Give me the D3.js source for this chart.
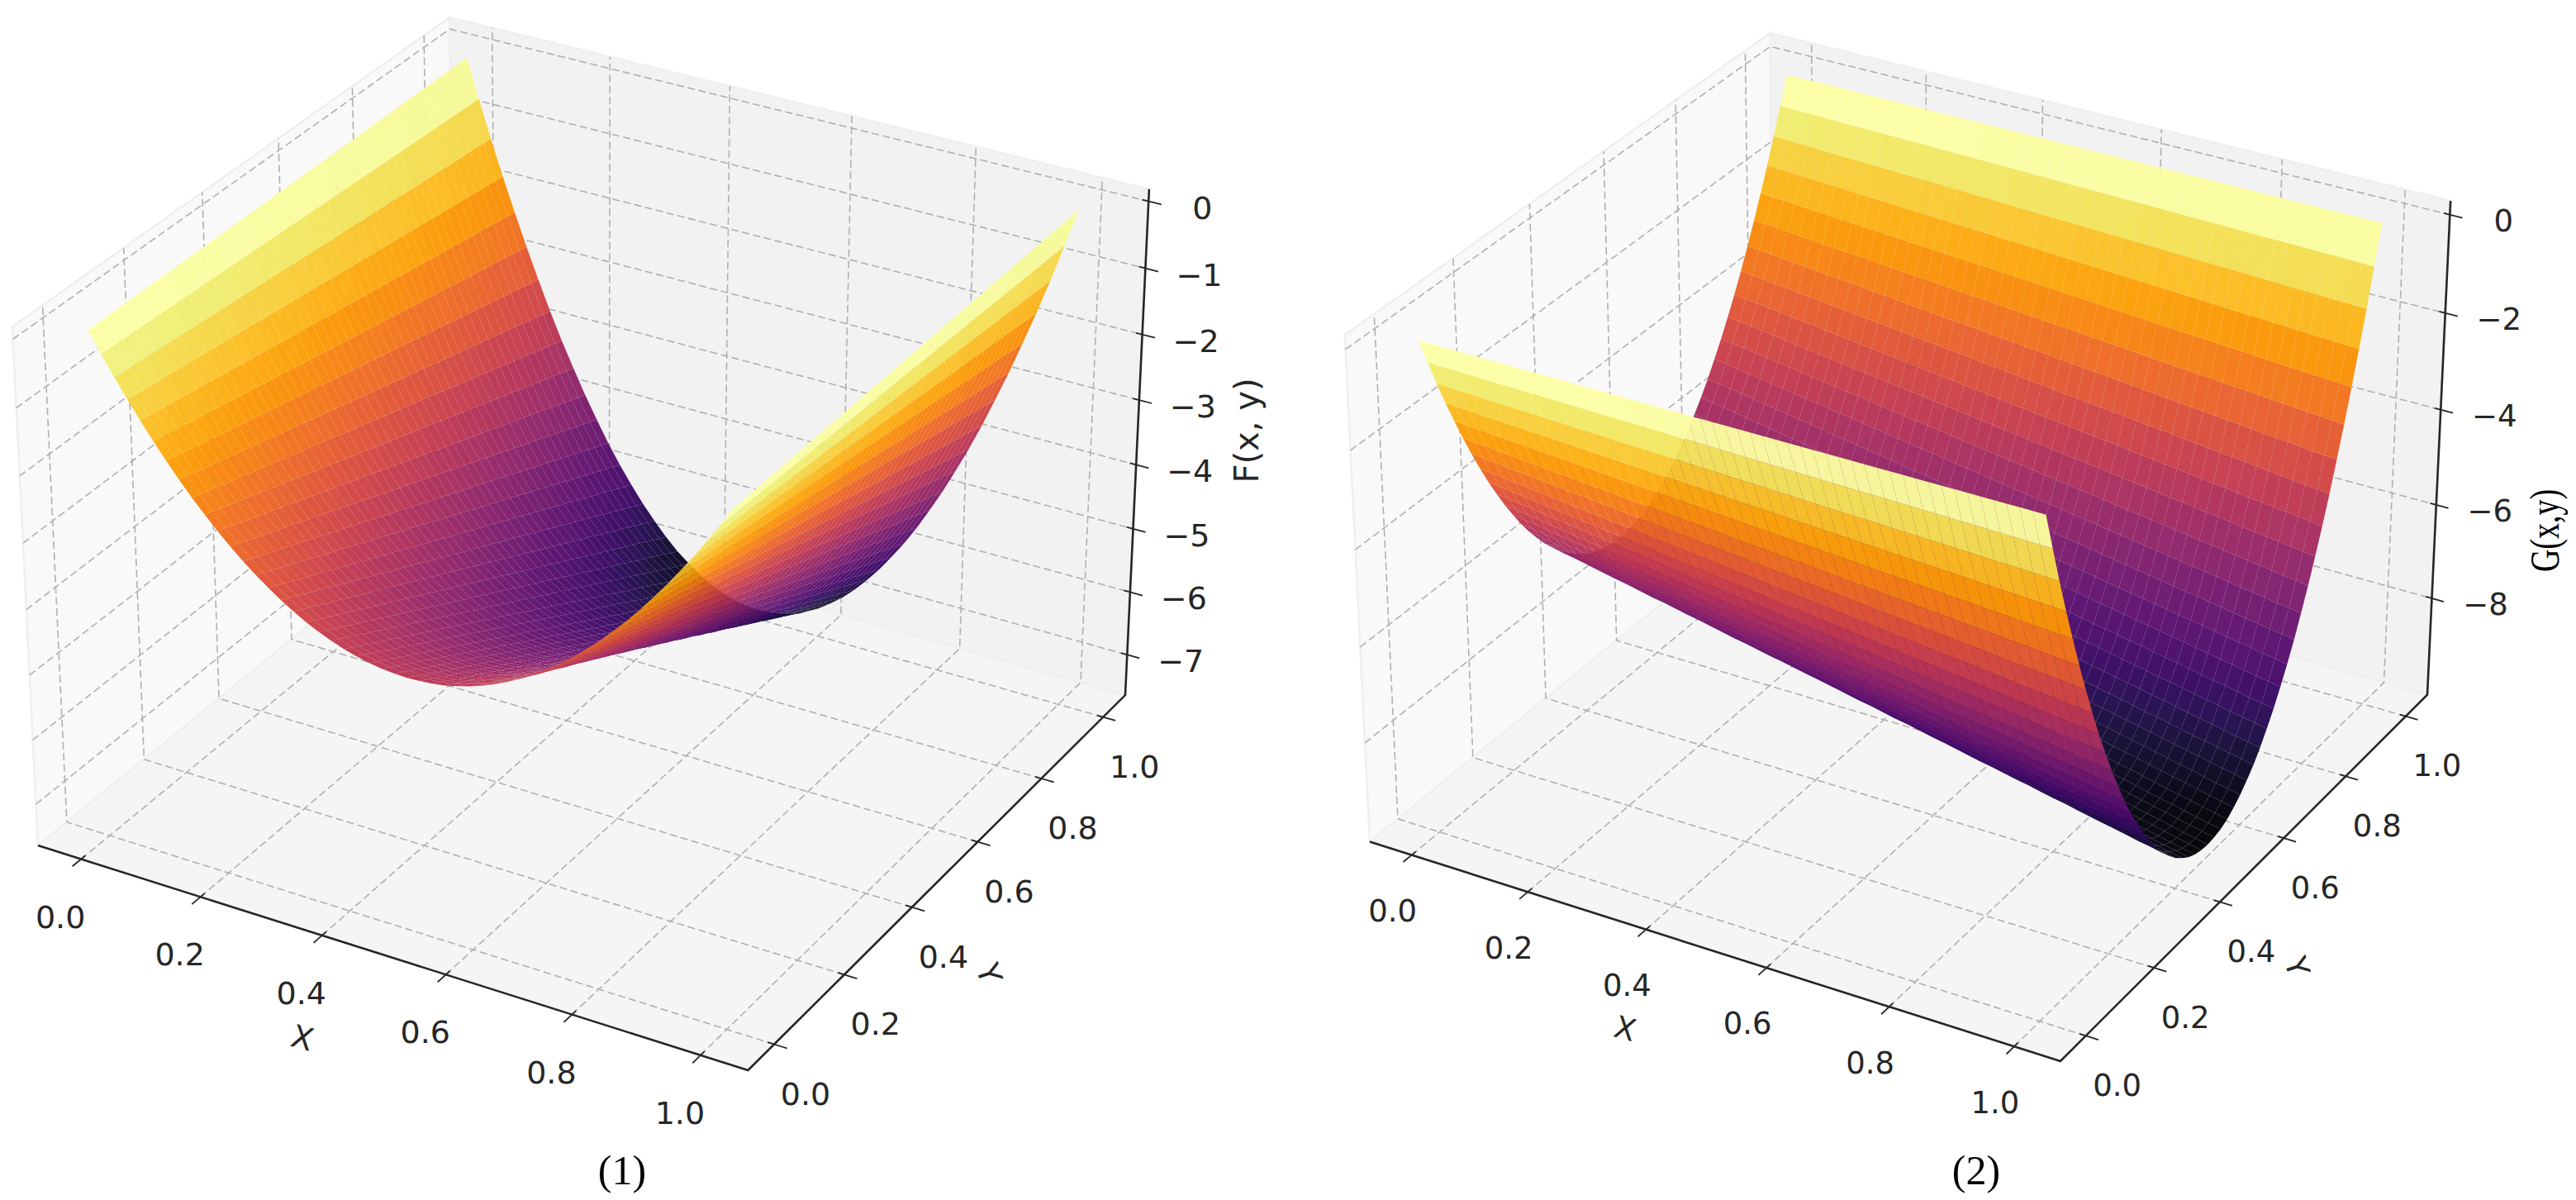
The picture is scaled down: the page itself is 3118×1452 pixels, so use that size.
<!DOCTYPE html>
<meta charset="utf-8">
<head>
    <script src="https://d3js.org/d3.v7.min.js"></script>
    <style>
    body { margin: 0; background: #fff; }
    .grid { fill: none; stroke: #b0b0b0; stroke-width: 1.6; stroke-dasharray: 9 4.5; }
    .axis { fill: none; stroke: #262626; stroke-width: 2.6; }
    .tick { fill: none; stroke: #262626; stroke-width: 1.8; }
    .lab { font-family: "DejaVu Sans"; fill: #262626; text-anchor: middle; dominant-baseline: central; }
    </style>
</head>
<body>
<script>
// grid the two surfaces were sampled on (51 x 51 points)
var gridValues = [0,.02,.04,.06,.08,.1,.12,.14,.16,.18,.2,.22,.24,.26,.28,.3,.32,.34,.36,.38,.4,.42,.44,.46,.48,.5,
    .52,.54,.56,.58,.6,.62,.64,.66,.68,.7,.72,.74,.76,.78,.8,.82,.84,.86,.88,.9,.92,.94,.96,.98,1];

// share of the valley depth reached across the trough (same read for both panels)
var troughShape = [0,.078,.154,.226,.294,.36,.422,.482,.538,.59,.64,.686,.73,.77,.806,.84,.87,.898,.922,.942,.96,.974,.986,.994,.998,1,
    .998,.994,.986,.974,.96,.942,.922,.898,.87,.84,.806,.77,.73,.686,.64,.59,.538,.482,.422,.36,.294,.226,.154,.078,0];

var depthF = [3.8,3.87,3.95,4.02,4.1,4.17,4.24,4.32,4.39,4.47,4.54,4.61,4.69,4.76,4.84,4.91,4.98,5.06,5.13,5.21,5.28,5.35,5.43,5.5,5.58,5.65,
    5.72,5.8,5.87,5.95,6.02,6.09,6.17,6.24,6.32,6.39,6.46,6.54,6.61,6.69,6.76,6.83,6.91,6.98,7.06,7.13,7.2,7.28,7.35,7.43,7.5];
var depthG = [7,7.06,7.11,7.17,7.23,7.29,7.34,7.4,7.46,7.51,7.57,7.63,7.68,7.74,7.8,7.86,7.91,7.97,8.03,8.08,8.14,8.2,8.25,8.31,8.37,8.43,
    8.48,8.54,8.6,8.65,8.71,8.77,8.82,8.88,8.94,9,9.05,9.11,9.17,9.22,9.28,9.34,9.39,9.45,9.51,9.57,9.62,9.68,9.74,9.79,9.85];

var xyTicks = [0, 0.2, 0.4, 0.6, 0.8, 1];
var zTicksF = [0, -1, -2, -3, -4, -5, -6, -7];
var zTicksG = [0, -2, -4, -6, -8];

var W = 3118, H = 1452;
var svg = d3.select("body").append("svg").attr("width", W).attr("height", H);

// view of the box, same camera as a default mplot3d axes
var az = -60 * Math.PI / 180, el = 30 * Math.PI / 180, dist = 10;
var aspect = [1.1905, 1.1905, 0.8929];
var w = [Math.cos(el) * Math.cos(az), Math.cos(el) * Math.sin(az), Math.sin(el)];
var u = [-Math.sin(az), Math.cos(az), 0];
var v = [w[1] * u[2] - w[2] * u[1], w[2] * u[0] - w[0] * u[2], w[0] * u[1] - w[1] * u[0]];
function dot(a, b) { return a[0] * b[0] + a[1] * b[1] + a[2] * b[2]; }

// X, Y, Z are box fractions 0..1
function view(X, Y, Z) {
    var d = [aspect[0] * (X - .5), aspect[1] * (Y - .5), aspect[2] * (Z - .5)];
    var depth = dist - dot(w, d);
    return { x: dot(u, d) / depth, y: dot(v, d) / depth, depth: depth };
}

function drawPanel(opt) {
    var g = svg.append("g");
    var bx = d3.scaleLinear().domain([-0.073, 1.073]).range([0, 1]);
    var by = d3.scaleLinear().domain([-0.073, 1.073]).range([0, 1]);
    var bz = d3.scaleLinear().domain(opt.zLim).range([0, 1]);
    var sx = d3.scaleLinear().domain([view(0, 0, 0).x, view(1, 1, 0).x]).range(opt.xRange);
    var sy = d3.scaleLinear().domain([view(1, 0, 0).y, view(0, 1, 1).y]).range(opt.yRange);

    function pt(x, y, z) {
        var p = view(bx(x), by(y), bz(z));
        return [sx(p.x), sy(p.y)];
    }
    var line = d3.line();
    var x0 = bx.domain()[0], x1 = bx.domain()[1], y0 = by.domain()[0], y1 = by.domain()[1];
    var z0 = bz.domain()[0], z1 = bz.domain()[1];

    // panes
    var panes = [
        { c: "#f9f9f9", p: [pt(x0, y0, z0), pt(x0, y1, z0), pt(x0, y1, z1), pt(x0, y0, z1)] },
        { c: "#f2f2f2", p: [pt(x0, y1, z0), pt(x1, y1, z0), pt(x1, y1, z1), pt(x0, y1, z1)] },
        { c: "#f5f5f5", p: [pt(x0, y0, z0), pt(x1, y0, z0), pt(x1, y1, z0), pt(x0, y1, z0)] }
    ];
    g.selectAll(".pane").data(panes).enter().append("path")
        .attr("class", "pane")
        .attr("d", function(d) { return line(d.p) + "Z"; })
        .attr("fill", function(d) { return d.c; })
        .attr("stroke", "#efefef")
        .attr("stroke-width", 2.5);

    // grid lines
    xyTicks.forEach(function(t) {
        g.append("path").attr("class", "grid").attr("d", line([pt(t, y0, z0), pt(t, y1, z0), pt(t, y1, z1)]));
        g.append("path").attr("class", "grid").attr("d", line([pt(x1, t, z0), pt(x0, t, z0), pt(x0, t, z1)]));
    });
    opt.zTicks.forEach(function(t) {
        g.append("path").attr("class", "grid").attr("d", line([pt(x0, y0, t), pt(x0, y1, t), pt(x1, y1, t)]));
    });

    // axis lines and ticks
    g.append("path").attr("class", "axis").attr("d", line([pt(x0, y0, z0), pt(x1, y0, z0), pt(x1, y1, z0), pt(x1, y1, z1)]));
    xyTicks.forEach(function(t) {
        g.append("path").attr("class", "tick").attr("d", line([pt(t, y0 - .022, z0), pt(t, y0 + .011, z0)]));
        g.append("path").attr("class", "tick").attr("d", line([pt(x1 - .01, t, z0), pt(x1 + .02, t, z0)]));
        var px = pt(t, y0, z0), py = pt(x1, t, z0);
        g.append("text").attr("class", "lab").attr("font-size", opt.fontSize)
            .attr("x", px[0] + opt.xLabOff[0]).attr("y", px[1] + opt.xLabOff[1]).text(d3.format(".1f")(t));
        g.append("text").attr("class", "lab").attr("font-size", opt.fontSize)
            .attr("x", py[0] + opt.yLabOff[0]).attr("y", py[1] + opt.yLabOff[1]).text(d3.format(".1f")(t));
    });
    opt.zTicks.forEach(function(t) {
        g.append("path").attr("class", "tick").attr("d", line([pt(x1 - .01, y1, t), pt(x1 + .02, y1, t)]));
        var pz = pt(x1, y1, t);
        g.append("text").attr("class", "lab").attr("font-size", opt.fontSize)
            .attr("x", pz[0] + 65).attr("y", pz[1] + 8).text(d3.format("d")(t).replace("-", "\u2212"));
    });

    // surface cells, far ones first; colour runs over the range of the cell means
    var cells = [];
    for (var i = 0; i < gridValues.length - 1; i++) {
        for (var j = 0; j < gridValues.length - 1; j++) {
            var corners = [[i, j], [i + 1, j], [i + 1, j + 1], [i, j + 1]].map(function(c) {
                var z = opt.surface(c[0], c[1]);
                return { x: gridValues[c[0]], y: gridValues[c[1]], z: z };
            });
            cells.push({
                p: corners.map(function(c) { return pt(c.x, c.y, c.z); }),
                z: d3.mean(corners, function(c) { return c.z; }),
                depth: d3.mean(corners, function(c) { return view(bx(c.x), by(c.y), bz(c.z)).depth; })
            });
        }
    }
    var color = d3.scaleSequential(d3.interpolateInferno).domain(d3.extent(cells, function(d) { return d.z; }));
    cells.sort(function(a, b) { return b.depth - a.depth; });
    g.append("g").selectAll("path").data(cells).enter().append("path")
        .attr("d", function(d) { return line(d.p) + "Z"; })
        .attr("fill", function(d) { return color(d.z); })
        .attr("fill-opacity", 0.97);

    // axis titles
    g.append("text").attr("class", "lab").attr("font-size", opt.fontSize)
        .attr("transform", "translate(" + opt.xTitle + ") rotate(15)").text("X");
    g.append("text").attr("class", "lab").attr("font-size", opt.fontSize)
        .attr("transform", "translate(" + opt.yTitle + ") rotate(72)").text("Y");
    g.append("text").attr("class", "lab")
        .attr("font-size", opt.zTitleSize)
        .style("font-family", opt.zTitleFont)
        .style("fill", opt.zTitleFill)
        .attr("transform", "translate(" + opt.zTitle + ") rotate(-90) scale(" + opt.zTitleSquash + ",1)").text(opt.zLabel);
    g.append("text").attr("class", "lab")
        .attr("font-size", 50).style("font-family", "Liberation Serif").style("fill", "#000")
        .attr("x", opt.caption[0]).attr("y", opt.caption[1]).text(opt.captionText);
}

drawPanel({
    zLim: [-7.65, 0.18], xRange: [46, 1362], yRange: [1295, 21], fontSize: 38,
    zTicks: zTicksF,
    surface: function(i, j) { return -depthF[j] * troughShape[i]; },
    xLabOff: [-25, 70], yLabOff: [38, 60],
    xTitle: [366, 1256], yTitle: [1197, 1178], zTitle: [1509, 521],
    zLabel: "F(x, y)", zTitleFont: "DejaVu Sans", zTitleSize: 40, zTitleFill: "#262626", zTitleSquash: 1,
    caption: [753, 1416], captionText: "(1)"
});
drawPanel({
    zLim: [-10.1, 0.28], xRange: [1658, 2938], yRange: [1284, 40], fontSize: 37,
    zTicks: zTicksG,
    surface: function(i, j) { return -depthG[i] * troughShape[j]; },
    xLabOff: [-23, 68], yLabOff: [38, 60],
    xTitle: [1967, 1245], yTitle: [2780, 1170], zTitle: [3080, 642],
    zLabel: "G(x,y)", zTitleFont: "Liberation Serif", zTitleSize: 50, zTitleFill: "#000", zTitleSquash: 0.76,
    caption: [2392, 1416], captionText: "(2)"
});
</script>
</body>
</html>
